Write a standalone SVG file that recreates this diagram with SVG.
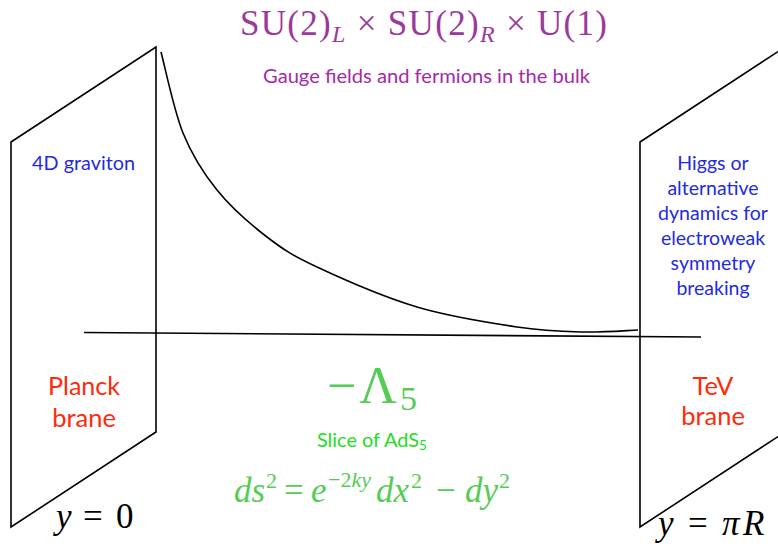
<svg xmlns="http://www.w3.org/2000/svg" width="778" height="550" viewBox="0 0 778 550">
<style>
.line{fill:none;stroke:#000;stroke-width:1.6;stroke-linejoin:miter}
.math{font-family:"Liberation Serif","DejaVu Serif",serif}
.sans{font-family:Lato,"Open Sans","Liberation Sans",sans-serif}
.purple{fill:#9b3a9b}
.blue{fill:#1f2be0}
.red{fill:#ff2a0a}
.green{fill:#55cc55}
.bright{fill:#22dd22}
.it{font-style:italic}
</style>
<rect width="778" height="550" fill="#fff"/>
<g id="connectors">
<path class="line" d="M84,332.5 L701,337" stroke-width="2.2"/>
<path class="line" d="M161,52 C164.7,65.5 173.7,110 183,133 C192.3,156 203,172.7 217,190 C231,207.3 250.3,224.2 267,237 C283.7,249.8 292,255.3 317,267 C342,278.7 383.7,297 417,307 C450.3,317 489.3,322.8 517,327 C544.7,331.2 562.8,331.5 583,332 C603.2,332.5 628.8,330.3 638,330"/>
</g>
<g id="planck-brane">
<path class="line" d="M11,142 L156,47 L156,432 L11,527 Z"/>
<text class="sans blue" x="83.5" y="170" font-size="19" text-anchor="middle" textLength="103" lengthAdjust="spacingAndGlyphs">4D graviton</text>
<text class="sans red" x="84" y="395" font-size="25.5" text-anchor="middle" textLength="72" lengthAdjust="spacingAndGlyphs">Planck</text>
<text class="sans red" x="84" y="427" font-size="25.5" text-anchor="middle">brane</text>
<text class="math" y="528" font-size="35"><tspan class="it" x="56">y</tspan><tspan x="83">=</tspan><tspan x="116">0</tspan></text>
</g>
<g id="tev-brane">
<path class="line" d="M640,142 L785,47 L785,432 L640,527 Z"/>
<g class="sans blue" font-size="19.5" text-anchor="middle">
<text x="713" y="170">Higgs or</text>
<text x="713" y="195">alternative</text>
<text x="713" y="220" textLength="110" lengthAdjust="spacingAndGlyphs">dynamics for</text>
<text x="713" y="245">electroweak</text>
<text x="713" y="270">symmetry</text>
<text x="713" y="295">breaking</text>
</g>
<text class="sans red" x="713" y="395" font-size="25.5" text-anchor="middle">TeV</text>
<text class="sans red" x="713" y="425" font-size="25.5" text-anchor="middle">brane</text>
<text class="math" y="535" font-size="35"><tspan class="it" x="658">y</tspan><tspan x="688">=</tspan><tspan class="it" x="722">π</tspan><tspan class="it" x="743">R</tspan></text>
</g>
<g id="bulk">
<text class="math purple" x="240" y="35" font-size="35" textLength="367" lengthAdjust="spacing">SU(2)<tspan class="it" font-size="24" dy="7">L</tspan><tspan dy="-7"> × SU(2)</tspan><tspan class="it" font-size="24" dy="7">R</tspan><tspan dy="-7"> × U(1)</tspan></text>
<text class="sans" x="426.5" y="83" font-size="19.5" text-anchor="middle" style="fill:#a52aa5" textLength="327" lengthAdjust="spacingAndGlyphs">Gauge fields and fermions in the bulk</text>
<text class="math green" x="372" y="403" font-size="52" text-anchor="middle" textLength="90" lengthAdjust="spacing">−Λ<tspan font-size="34" dy="7">5</tspan></text>
<text class="sans bright" x="372" y="447" font-size="19" text-anchor="middle" textLength="110" lengthAdjust="spacingAndGlyphs">Slice of AdS<tspan font-size="13" dy="3">5</tspan></text>
<text class="math green" y="502" font-size="35"><tspan class="it" x="234">ds</tspan><tspan font-size="22" x="266" y="488">2</tspan><tspan x="284" y="502">=</tspan><tspan class="it" x="311">e</tspan><tspan font-size="22" x="328" y="487">−2<tspan class="it">ky</tspan></tspan><tspan class="it" x="376" y="502">dx</tspan><tspan font-size="22" x="411" y="488">2</tspan><tspan x="436" y="502">−</tspan><tspan class="it" x="465">dy</tspan><tspan font-size="22" x="499" y="488">2</tspan></text>
</g>
</svg>
